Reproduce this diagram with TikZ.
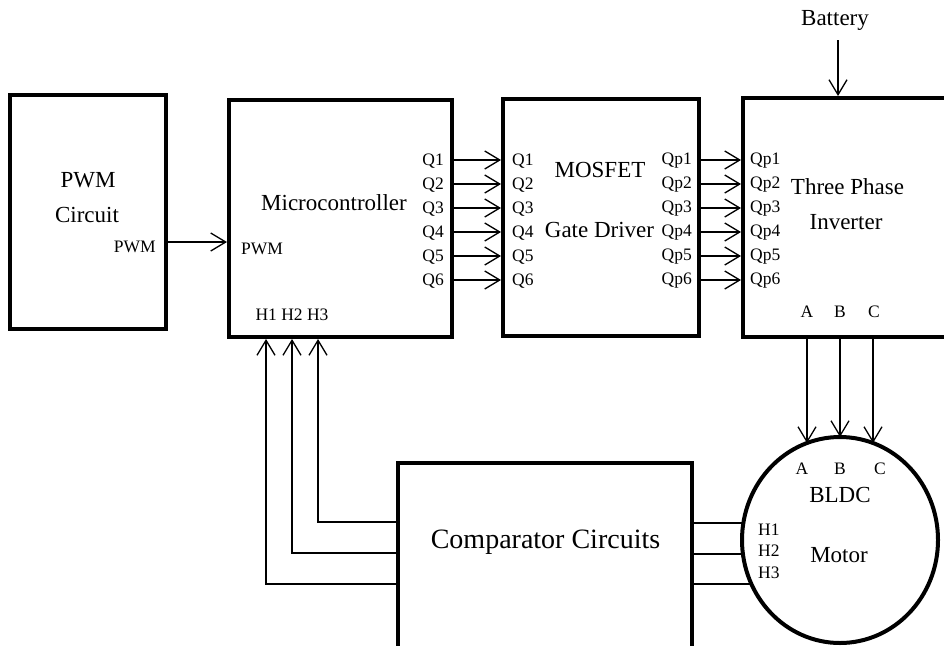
\documentclass[tikz,border=0pt]{standalone}
\usepackage{fontspec}
\setmainfont{Liberation Serif}
\usetikzlibrary{arrows.meta,shapes.geometric,calc}
\tikzset{
  blk/.style={draw, line width=4pt, rectangle, inner sep=0pt},
  arr/.style={-{Straight Barb[length=15pt,width=18pt]}, line width=1.3pt},
  wire/.style={line width=1.3pt},
  big/.style={inner sep=0pt, font=\fontsize{23}{26}\selectfont},
  sml/.style={inner sep=0pt, font=\fontsize{17.5}{20}\selectfont},
}
\begin{document}
\begin{tikzpicture}[x=1pt,y=-1pt]
\useasboundingbox (0,0) rectangle (944,645);
\clip (0,0) rectangle (944,645);
% blocks
\node[blk, minimum width=156pt, minimum height=234pt] (pwm) at (88,212) {};
\node[blk, minimum width=223pt, minimum height=237pt] (mcu) at (340.5,218.5) {};
\node[blk, minimum width=196pt, minimum height=237pt] (drv) at (601,217.5) {};
\node[blk, minimum width=250pt, minimum height=239pt] (inv) at (868,217.5) {};
\node[blk, minimum width=294pt, minimum height=240pt] (comp) at (545,583) {};
\node[draw, line width=4pt, ellipse, inner sep=0pt, minimum width=196pt, minimum height=206pt] (motor) at (840,540) {};
% texts
\node[big] (tpwm1) at (88,180) {PWM};
\node[big] (tpwm2) at (87,215) {Circuit};
\node[sml, anchor=east] (tpwm3) at (156,247) {PWM};
\node[big] (tmcu) at (334,203) {Microcontroller};
\node[sml, anchor=west] (tmcupwm) at (241,249) {PWM};
\node[sml] (tmcuh) at (292,315) {H1 H2 H3};
\node[big] (tdrv1) at (600,170) {MOSFET};
\node[big] (tdrv2) at (599.5,230) {Gate Driver};
\node[big] (tinv1) at (847.5,187) {Three Phase};
\node[big] (tinv2) at (846,222) {Inverter};
\node[sml] (tinvA) at (807,312) {A};
\node[sml] (tinvB) at (840,312) {B};
\node[sml] (tinvC) at (874,312) {C};
\node[big] (tbat) at (835,20) {Battery};
\node[big, font=\fontsize{28}{32}\selectfont] (tcomp) at (545.5,542) {Comparator Circuits};
\node[sml] (tmA) at (802,469) {A};
\node[sml] (tmB) at (840,469) {B};
\node[sml] (tmC) at (880,469) {C};
\node[big] (tbldc) at (840,495) {BLDC};
\node[big] (tmotor) at (839,555) {Motor};
\node[sml, anchor=west] (tmh1) at (758,530) {H1};
\node[sml, anchor=west] (tmh2) at (758,551) {H2};
\node[sml, anchor=west] (tmh3) at (758,573) {H3};
% Q and Qp rows
\foreach \i/\y in {1/160,2/184,3/208,4/232,5/256,6/280}{
  \node[sml, anchor=east] (qo\i) at (444,\y+1) {Q\i};
  \node[sml, anchor=west] (qi\i) at (512,\y+1) {Q\i};
  \node[sml, anchor=east] (qpo\i) at (692,\y+1) {Qp\i};
  \node[sml, anchor=west] (qpi\i) at (750,\y+1) {Qp\i};
  \draw[arr] (mcu.east |- 0,\y) -- (drv.west |- 0,\y);
  \draw[arr] (drv.east |- 0,\y) -- (inv.west |- 0,\y);
}
% PWM arrow
\draw[arr] (pwm.east |- 0,242) -- (mcu.west |- 0,242);
% battery
\coordinate (bat) at (838,40);
\draw[arr] (bat) -- (bat |- inv.north);
% inverter to motor
\coordinate (mA) at ($(motor.center)+(-33,-97)$);
\coordinate (mB) at ($(motor.center)+(0,-103)$);
\coordinate (mC) at ($(motor.center)+(33,-97)$);
\draw[arr] (inv.south -| mA) -- (mA);
\draw[arr] (inv.south -| mB) -- (mB);
\draw[arr] (inv.south -| mC) -- (mC);
% motor to comparator
\coordinate (mh1) at ($(motor.center)+(-96.7,-17)$);
\coordinate (mh2) at ($(motor.center)+(-97.1,14)$);
\coordinate (mh3) at ($(motor.center)+(-88.6,44)$);
\draw[wire] (comp.east |- mh1) -- (mh1);
\draw[wire] (comp.east |- mh2) -- (mh2);
\draw[wire] (comp.east |- mh3) -- (mh3);
% comparator to microcontroller
\draw[arr] (comp.west |- 0,522) -| (mcu.south -| 318,0);
\draw[arr] (comp.west |- 0,553) -| (mcu.south -| 292,0);
\draw[arr] (comp.west |- 0,584) -| (mcu.south -| 266,0);
\end{tikzpicture}
\end{document}
